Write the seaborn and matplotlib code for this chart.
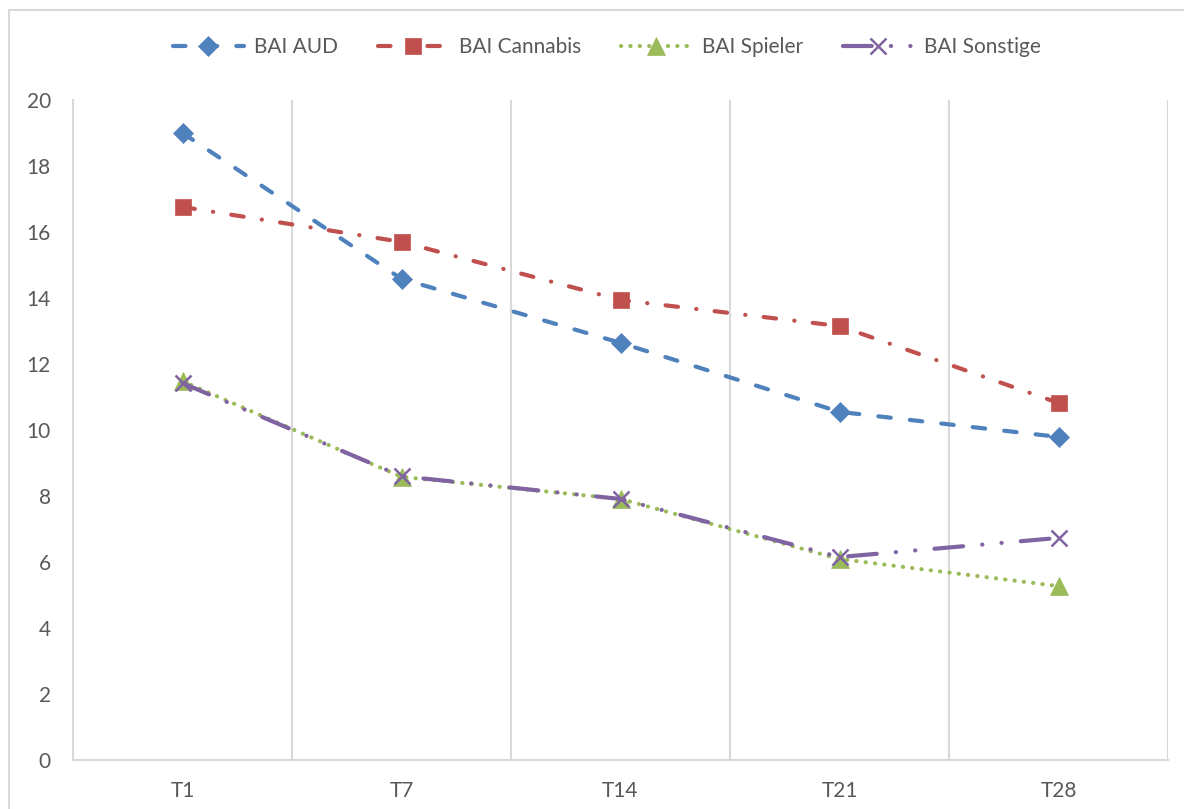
import matplotlib
matplotlib.use("Agg")
import matplotlib.pyplot as plt
from matplotlib.patches import Rectangle
import seaborn as sns
import pandas as pd

# Measurement points and mean BAI scores per group
zeitpunkte = ["T1", "T7", "T14", "T21", "T28"]
bai_aud = [19.0, 14.58, 12.64, 10.55, 9.79]
bai_cannabis = [16.76, 15.7, 13.94, 13.15, 10.82]
bai_spieler = [11.48, 8.58, 7.91, 6.09, 5.27]
bai_sonstige = [11.42, 8.6, 7.91, 6.15, 6.73]
y_ticks = [0, 2, 4, 6, 8, 10, 12, 14, 16, 18, 20]

sns.set_theme(style="white")
plt.rcParams["font.family"] = ["Lato", "DejaVu Sans"]

text_col = "#595959"
grid_col = "#d9d9d9"

fig = plt.figure(figsize=(11.84, 8.09), dpi=100)
fig.patch.set_facecolor("white")
ax = fig.add_axes([73 / 1184, 49 / 809, 1095 / 1184, 660 / 809])

# outer chart frame
fig.patches.append(Rectangle((9 / 1184, -0.1), 1.2, 1 - 10 / 809 + 0.1,
                             transform=fig.transFigure, fill=False,
                             edgecolor=grid_col, linewidth=1.5, zorder=0))

df = pd.DataFrame({
    "Zeitpunkt": zeitpunkte * 4,
    "BAI": bai_aud + bai_cannabis + bai_spieler + bai_sonstige,
    "Gruppe": (["BAI AUD"] * 5 + ["BAI Cannabis"] * 5
               + ["BAI Spieler"] * 5 + ["BAI Sonstige"] * 5),
})
df["pos"] = df["Zeitpunkt"].map({z: i for i, z in enumerate(zeitpunkte)})

series_styles = {
    "BAI AUD": dict(color="#4F81BD", marker="D", markersize=10.5,
                    linestyle=(0, (3.0, 4.6))),
    "BAI Cannabis": dict(color="#C0504D", marker="s", markersize=11,
                         linestyle=(0, (3.0, 4.4, 0.05, 4.4))),
    "BAI Spieler": dict(color="#9BBB59", marker="^", markersize=13,
                        linestyle=(0, (0.05, 2.2))),
    "BAI Sonstige": dict(color="#8064A2", marker="x", markersize=12,
                         linestyle=(0, (6.9, 4.6, 0.05, 4.6, 0.05, 4.6))),
}

for name, st in series_styles.items():
    sub = df[df["Gruppe"] == name]
    sns.lineplot(data=sub, x="pos", y="BAI", ax=ax, label=name,
                 color=st["color"], marker=st["marker"],
                 markersize=st["markersize"], linestyle=st["linestyle"],
                 linewidth=3.0, dash_capstyle="round",
                 markeredgecolor=st["color"],
                 markeredgewidth=1.8 if st["marker"] == "x" else 0.5)

ax.set_xlim(-0.5, len(zeitpunkte) - 0.5)
ax.set_ylim(0, 20)
ax.set_yticks(y_ticks)
ax.set_xticks(range(len(zeitpunkte)))
ax.set_xticklabels(zeitpunkte)
ax.set_xlabel("")
ax.set_ylabel("")

# vertical gridlines between categories
for b in [i + 0.5 for i in range(len(zeitpunkte))]:
    ax.axvline(b, color=grid_col, linewidth=1.5, zorder=0)

for s in ["top", "right"]:
    ax.spines[s].set_visible(False)
ax.spines["left"].set_color(grid_col)
ax.spines["left"].set_linewidth(1.5)
ax.spines["bottom"].set_color(grid_col)
ax.spines["bottom"].set_linewidth(1.5)

ax.tick_params(axis="both", length=0, labelsize=15, labelcolor=text_col)
ax.tick_params(axis="y", pad=16)
ax.tick_params(axis="x", pad=15)

handles, labels = ax.get_legend_handles_labels()
ax.get_legend().remove()
fig.legend(handles, labels, loc="center", ncol=4, frameon=False,
           bbox_to_anchor=(607 / 1184, 1 - 47 / 809), fontsize=15,
           labelcolor=text_col, handlelength=3.4, handletextpad=0.5,
           columnspacing=1.9)

fig.savefig("out.png", dpi=100)
